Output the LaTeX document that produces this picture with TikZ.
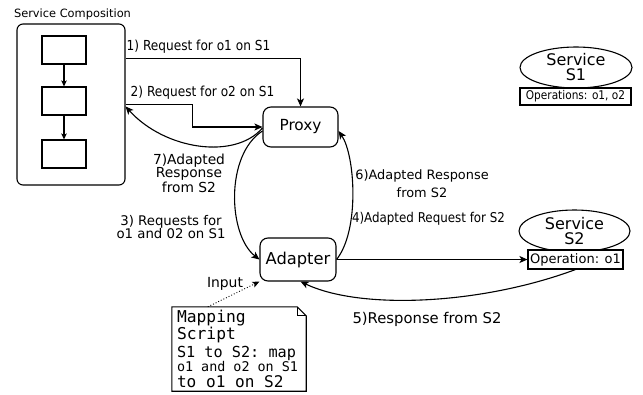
\documentclass[tikz,border=0pt]{standalone}
\usepackage{fontspec}
\setmainfont{DejaVu Sans}
\setmonofont{DejaVu Sans Mono}
\newfontfamily\cnd[FakeStretch=0.88]{DejaVu Sans}
\usetikzlibrary{shapes.geometric,arrows.meta,calc}
\newcommand\fsz[2]{\fontsize{#1}{#2}\selectfont}
\newcommand\ms{\hspace*{0.602em}}
\begin{document}
\begin{tikzpicture}[x=1pt,y=-1pt,
  base/.style={line width=1.1pt},
  arr/.style={base,-{Stealth[length=8pt,width=7pt,inset=2pt]}},
  sarr/.style={base,-{Stealth[length=6pt,width=5.5pt,inset=1.5pt]}},
  lbl/.style={inner sep=0pt, align=center},
  rbox/.style={draw, base, rounded corners=8pt, inner sep=0pt},
  sbox/.style={draw, base, inner sep=0pt},
  svc/.style={draw, base, ellipse, inner sep=0pt, align=center, font=\fsz{16}{15}},
]
\useasboundingbox (0,0) rectangle (643,394);
% service composition
\node[rbox, rounded corners=6pt, minimum width=108pt, minimum height=161pt] (comp) at (71,104.5) {};
\node[lbl, font=\fsz{11.4}{13}] (comptitle) at (72.5,14) {Service Composition};
\node[sbox, minimum width=44pt, minimum height=28pt] (b1) at (64,50) {};
\node[sbox, minimum width=44pt, minimum height=28pt] (b2) at (64,101) {};
\node[sbox, minimum width=44pt, minimum height=28pt] (b3) at (64,154) {};
\draw[sarr] (b1) -- (b2);
\draw[sarr] (b2) -- (b3);
% proxy and adapter
\node[rbox, minimum width=75pt, minimum height=40pt, font=\fsz{15.3}{18}] (proxy) at (300.5,127) {Proxy};
\node[rbox, minimum width=76pt, minimum height=43pt, font=\fsz{16.3}{18}] (adapter) at (298,259.5) {Adapter};
% services
\node[svc, minimum width=112pt, minimum height=41pt] (s1) at (576,67.5) {Service\\S1};
\node[sbox, minimum width=111pt, minimum height=17pt, font=\cnd\fsz{12}{14}] (ops1) at (575.5,96.5) {Operations: o1, o2};
\node[svc, minimum width=111pt, minimum height=42pt] (s2) at (574.5,231) {Service\\S2};
\node[sbox, fill=white, minimum width=95pt, minimum height=19pt, font=\fsz{13}{15}] (op2) at (575.5,259.5) {Operation: o1};
% note
\node[inner sep=0pt, minimum width=134pt, minimum height=84pt, text width=124pt, align=left, font=\ttfamily] (note) at (239,349)
 {\mbox{\fsz{16.3}{13}Mapping}\\\mbox{\fsz{16.3}{13}Script}\\[2pt]\mbox{\fsz{15.2}{13}S1\ms to\ms S2:\ms map}\\\mbox{\fsz{13.4}{13}o1\ms and\ms o2\ms on\ms S1}\\[3pt]\mbox{\fsz{16.1}{13}to\ms o1\ms on\ms S2}};
\draw[base] (note.north west) -- ([xshift=-9pt]note.north east) -- ([yshift=-9pt]note.north east) -- (note.south east) -- (note.south west) -- cycle;
\draw[line width=0.8pt] ([xshift=-9pt]note.north east) -- ([xshift=-9pt,yshift=-9pt]note.north east) -- ([yshift=-9pt]note.north east);
% connectors
\draw[arr] ($(comp.north east)+(0,35)$) -| (proxy.north);
\draw[arr] ($(comp.north east)+(0,81)$) -| ($(proxy.west)+(-70,0)$) -- (proxy.west);
\draw[arr] ($(proxy.west)+(0,1)$) .. controls (235,160) and (165,150) .. ($(comp.north east)+(0,83)$);
\draw[arr] ($(proxy.west)+(0,4)$) .. controls (225,155) and (228,235) .. (adapter.west);
\draw[arr] (adapter.east) .. controls (360,230) and (355,155) .. ($(proxy.east)+(0,4)$);
\draw[arr] (adapter.east) -- (op2.west);
\draw[arr] (op2.south) .. controls (480,305) and (360,310) .. ($(adapter.south east)+(-36,0)$);
\draw[line width=0.9pt, dotted, -{Stealth[length=7pt,width=6pt,inset=1.5pt]}] ($(note.north west)+(36,0)$) -- (adapter.south west);
% labels
\node[lbl, font=\cnd\fsz{13.8}{15}] (l1) at (198.5,47) {1) Request for o1 on S1};
\node[lbl, font=\cnd\fsz{13.8}{15}] (l2) at (202.5,93) {2) Request for o2 on S1};
\node[lbl, font=\fsz{13.8}{12.5}] (l7) at (189,173) {7)Adapted\\Response\\from S2};
\node[lbl, font=\fsz{13.3}{12.5}] (l3) at (171,227) {3) Requests for\\o1 and 02 on S1};
\node[lbl, font=\fsz{12.9}{18}] (l6) at (422,184) {6)Adapted Response\\from S2};
\node[lbl, font=\cnd\fsz{13.5}{15}] (l4) at (428.5,219) {4)Adapted Request for S2};
\node[lbl, font=\fsz{14.8}{16}] (l5) at (427,319) {5)Response from S2};
\node[lbl, font=\fsz{13.9}{16}] (lin) at (225,284) {Input};
\end{tikzpicture}
\end{document}
